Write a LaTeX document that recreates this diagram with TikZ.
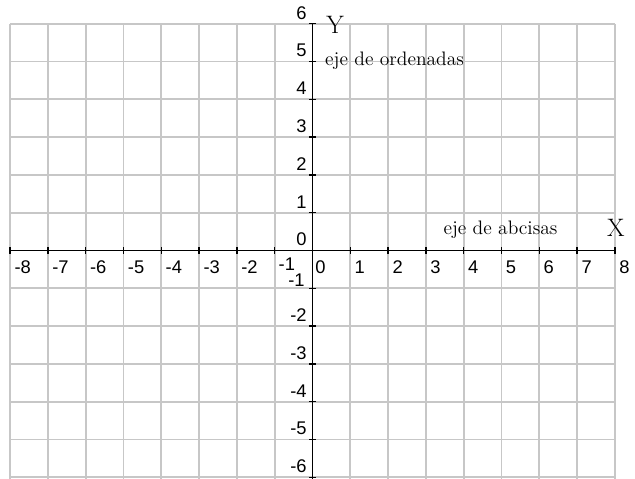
\documentclass[tikz,border=0pt]{standalone}
\usepackage{fontspec}
\newfontfamily\numfont{Liberation Sans}
\begin{document}
\begin{tikzpicture}[
  gridline/.style={draw=black!22, line width=1.4pt},
  axisline/.style={draw=black, line width=1.2pt},
  tickmark/.style={draw=black, line width=1pt},
  xnum/.style={anchor=base west, inner sep=0pt, font=\numfont\fontsize{13.8}{15}\selectfont},
  ynum/.style={anchor=base east, inner sep=0pt, font=\numfont\fontsize{13.8}{15}\selectfont},
  axname/.style={inner sep=0pt, font=\fontsize{19}{21}\selectfont},
  axtext/.style={anchor=base west, inner sep=0pt, font=\fontsize{14.7}{17}\selectfont}
]
\useasboundingbox (-8.267,-6.019) rectangle (8.532,6.627);
% grid
\foreach \x in {-8,...,8} \draw[gridline] (\x,-6.1) -- (\x,6);
\foreach \y in {-6,...,6} \draw[gridline] (-8,\y) -- (8,\y);
% axes
\coordinate (xleft) at (-8,0);
\coordinate (xright) at (8,0);
\coordinate (ytop) at (0,6);
\coordinate (ybottom) at (0,-6.1);
\draw[axisline] (xleft) -- (xright);
\draw[axisline] (ybottom) -- (ytop);
% ticks
\foreach \x in {-8,...,8} \draw[tickmark] (\x,-0.08) -- (\x,0.08);
\foreach \y in {-6,...,6} \draw[tickmark] (-0.08,\y) -- (0.08,\y);
% x numbers
\foreach \x [count=\i] in {-8,...,-2} \node[xnum] (xn\i) at (\x+0.11,-0.6) {\x};
\node[xnum] (xnone) at (-0.9,-0.53) {-1};
\node[xnum] (xzero) at (0.07,-0.6) {0};
\foreach \x [count=\i] in {1,...,8} \node[xnum] (xp\i) at (\x+0.11,-0.6) {\x};
% y numbers
\foreach \y [count=\i] in {-6,...,-2,0,1,2,3,4,5,6} \node[ynum] (yn\i) at (-0.15,\y+0.12) {\y};
\node[ynum] (ynone) at (-0.2,-0.95) {-1};
% axis names and texts
\node[axname, anchor=base west] (yname) at (0.36,5.746) {Y};
\node[axname, anchor=base] (xname) at (8.024,0.365) {X};
\node[axtext] (ordtext) at (0.33,4.907) {eje de ordenadas};
\node[axtext] (abstext) at (3.46,0.43) {eje de abcisas};
\end{tikzpicture}
\end{document}
